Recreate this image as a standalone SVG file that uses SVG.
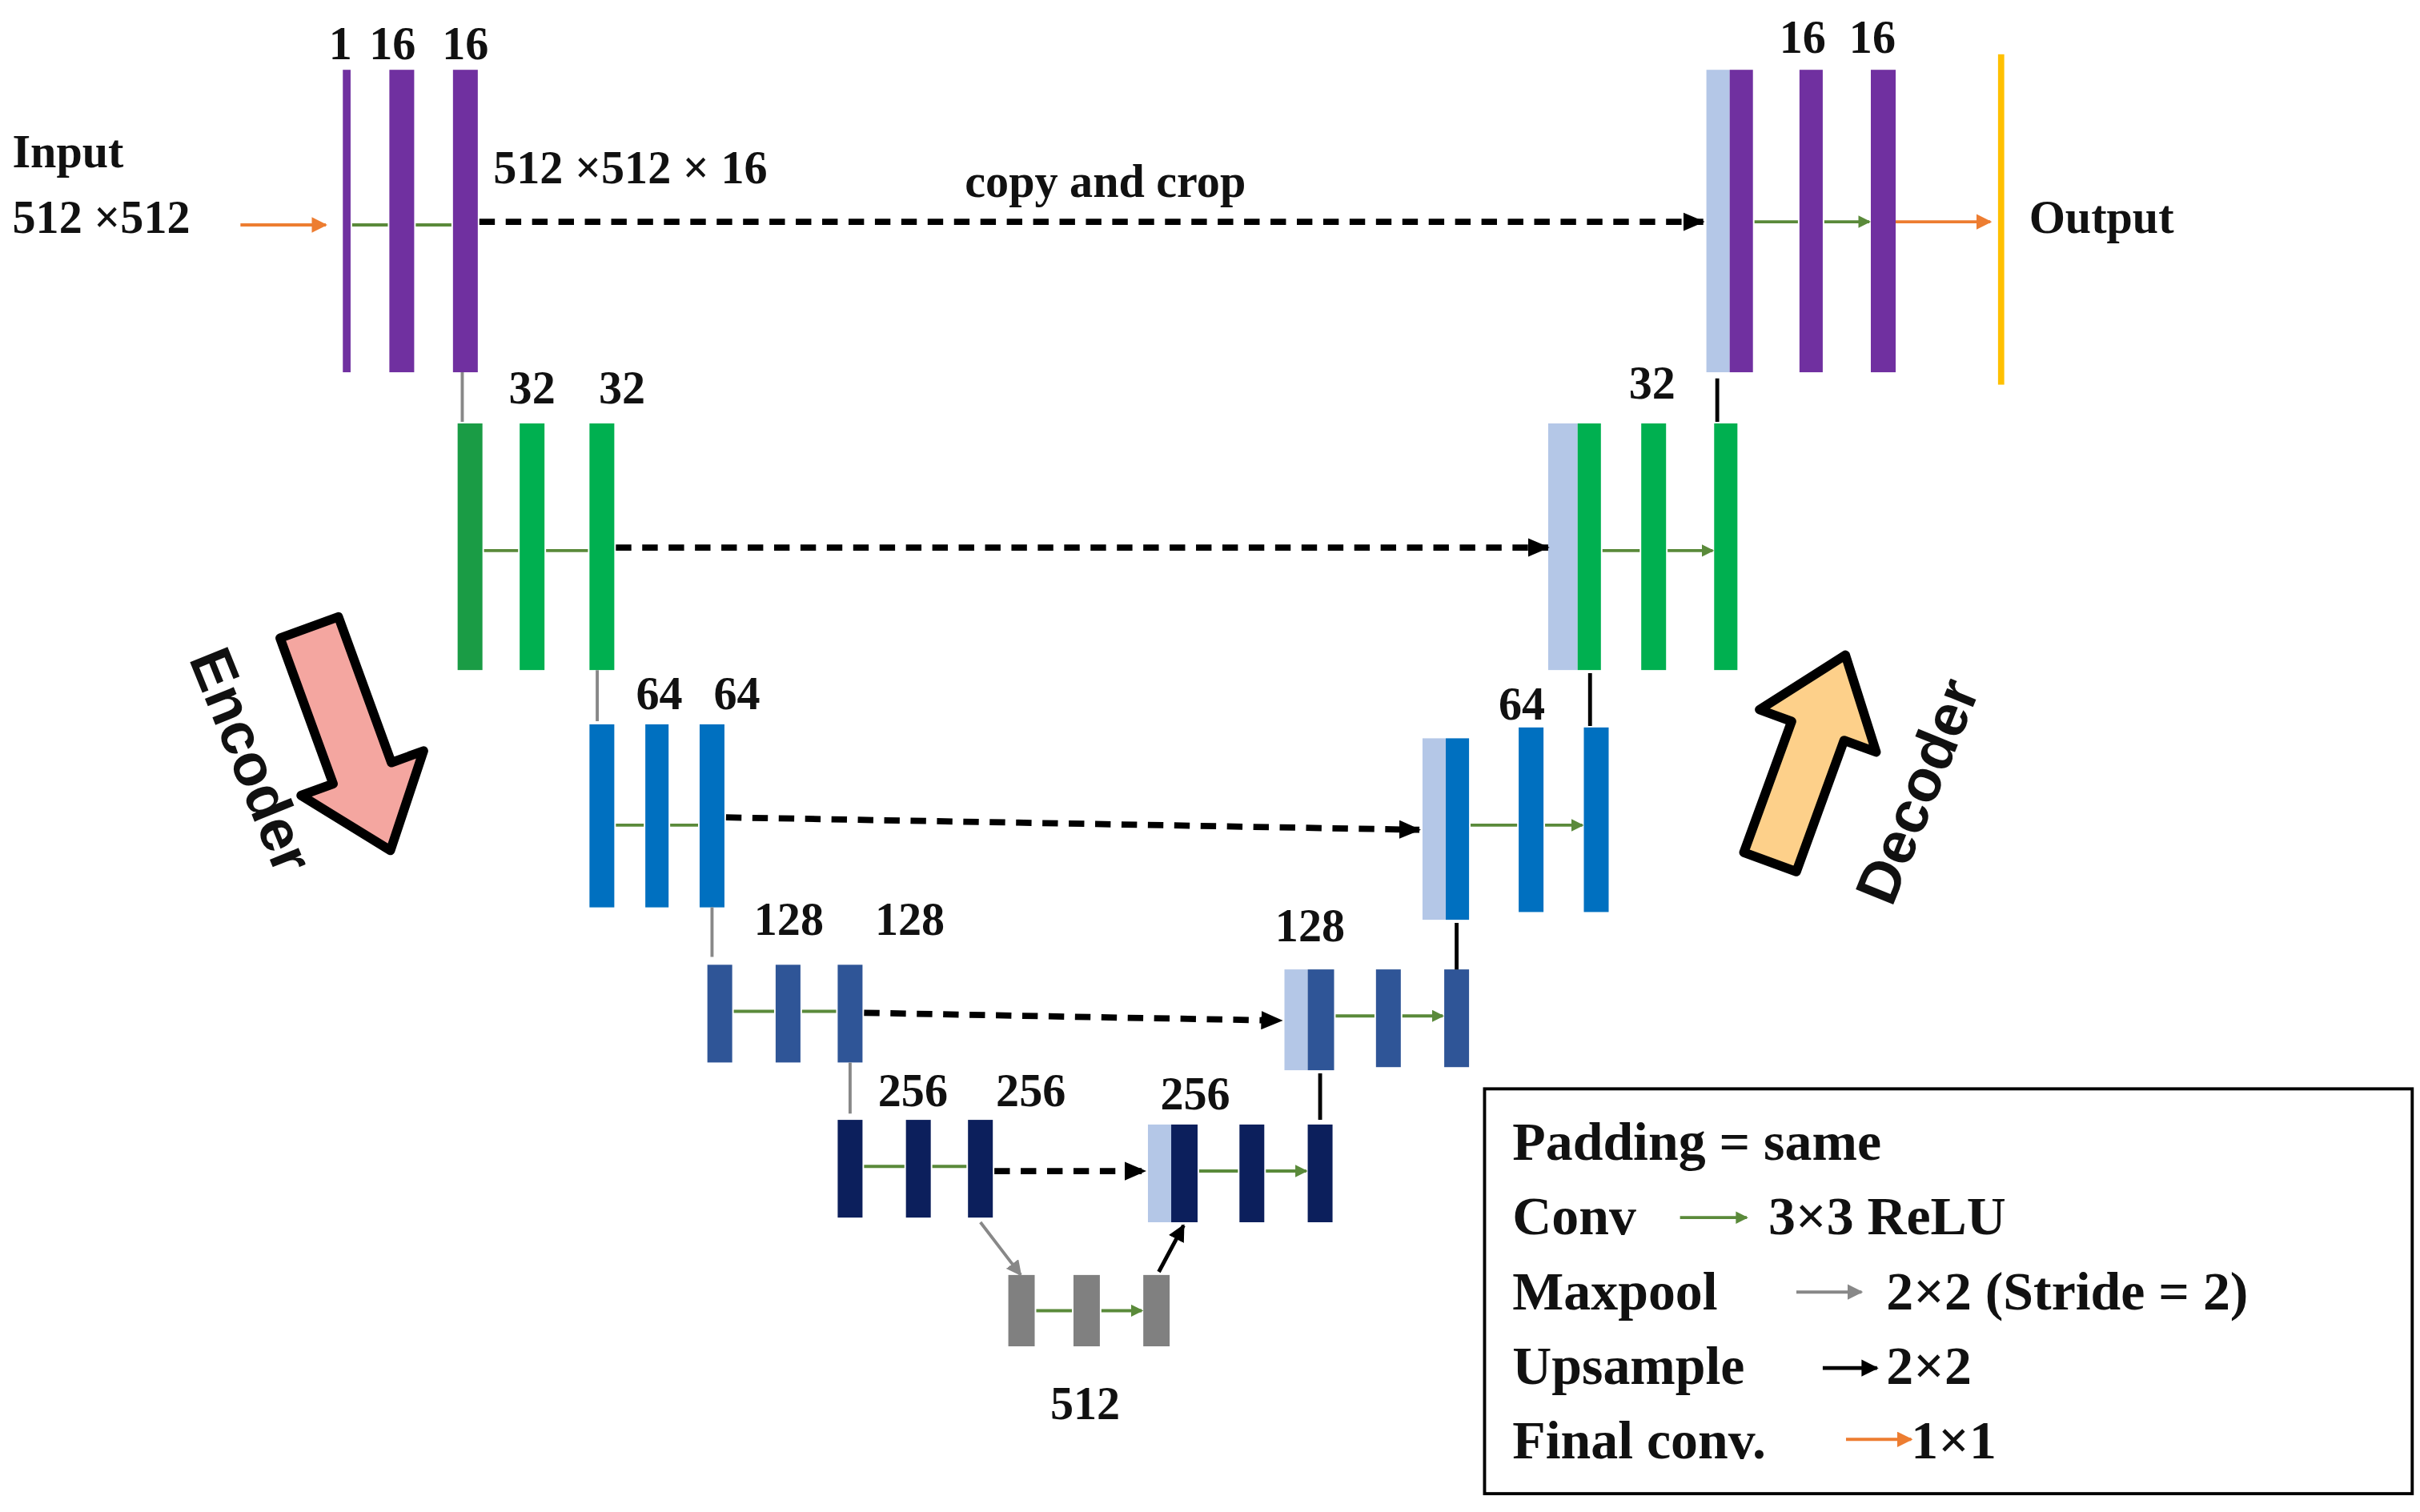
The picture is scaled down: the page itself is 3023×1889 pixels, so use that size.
<svg xmlns="http://www.w3.org/2000/svg" width="3023" height="1889" viewBox="0 0 3023 1889">
<defs>
<style>
.t{font-family:"Liberation Serif",serif;font-weight:bold;font-size:30px;fill:#111}
.lg{font-family:"Liberation Serif",serif;font-weight:bold;font-size:35px;fill:#111}
.s{font-family:"Liberation Sans",sans-serif;font-weight:bold;font-size:38px;fill:#111}
.g{stroke:#5a8a3a;stroke-width:2;fill:none}
.gr{stroke:#888;stroke-width:2;fill:none}
.bk{stroke:#000;stroke-width:2.5;fill:none}
.or{stroke:#ed7d31;stroke-width:2;fill:none}
.d{stroke:#000;stroke-width:4;stroke-dasharray:10,7;fill:none}
.p{fill:#7030a0}.gn{fill:#00b050}.gd{fill:#1a9c45}.b{fill:#0070c0}.m{fill:#2f5597}.n{fill:#0c1f5c}.lb{fill:#b4c7e7}.gy{fill:#808080}
</style>
<marker id="mg" markerWidth="8" markerHeight="8" refX="7" refY="4" orient="auto" markerUnits="userSpaceOnUse"><path d="M0,0L8,4L0,8Z" fill="#5a8a3a"/></marker>
<marker id="mgr" markerWidth="10" markerHeight="10" refX="9" refY="5" orient="auto" markerUnits="userSpaceOnUse"><path d="M0,0L10,5L0,10Z" fill="#888"/></marker>
<marker id="mb" markerWidth="11" markerHeight="11" refX="10" refY="5.5" orient="auto" markerUnits="userSpaceOnUse"><path d="M0,0L11,5.5L0,11Z" fill="#000"/></marker>
<marker id="mo" markerWidth="10" markerHeight="10" refX="9" refY="5" orient="auto" markerUnits="userSpaceOnUse"><path d="M0,0L10,5L0,10Z" fill="#ed7d31"/></marker>
<marker id="md" markerWidth="14" markerHeight="12" refX="13" refY="6" orient="auto" markerUnits="userSpaceOnUse"><path d="M0,0L14,6L0,12Z" fill="#000"/></marker>
</defs>
<rect width="3023" height="1889" fill="#fff"/>
<g transform="scale(1.9378)">
<g id="labels">
<text class="t" x="8" y="108" font-size="31">Input</text>
<text class="t" x="8" y="150" font-size="31">512 ×512</text>
<text class="t" x="318" y="118" font-size="31">512 ×512 × 16</text>
<text class="t" x="622" y="127" font-size="31">copy and crop</text>
<text class="t" x="1308" y="150" font-size="33">Output</text>
<text class="t" x="212" y="38">1</text><text class="t" x="238" y="38">16</text><text class="t" x="285" y="38">16</text>
<text class="t" x="1147" y="34">16</text><text class="t" x="1192" y="34">16</text>
<text class="t" x="328" y="260">32</text><text class="t" x="386" y="260">32</text><text class="t" x="1050" y="257">32</text>
<text class="t" x="410" y="457">64</text><text class="t" x="460" y="457">64</text><text class="t" x="966" y="464">64</text>
<text class="t" x="486" y="603">128</text><text class="t" x="564" y="603">128</text><text class="t" x="822" y="607">128</text>
<text class="t" x="566" y="713">256</text><text class="t" x="642" y="713">256</text><text class="t" x="748" y="715">256</text>
<text class="t" x="677" y="915">512</text>
</g>
<g id="encoder1"><rect class="p" x="221" y="45" width="5" height="195"/><rect class="p" x="251" y="45" width="16" height="195"/><rect class="p" x="292" y="45" width="16" height="195"/></g>
<g id="decoder1"><rect class="lb" x="1100" y="45" width="15" height="195"/><rect class="p" x="1115" y="45" width="15" height="195"/><rect class="p" x="1160" y="45" width="15" height="195"/><rect class="p" x="1206" y="45" width="16" height="195"/><rect fill="#ffc000" x="1288" y="35" width="4" height="213"/></g>
<g id="encoder2"><rect class="gd" x="295" y="273" width="16" height="159"/><rect class="gn" x="335" y="273" width="16" height="159"/><rect class="gn" x="380" y="273" width="16" height="159"/></g>
<g id="decoder2"><rect class="lb" x="998" y="273" width="19" height="159"/><rect class="gn" x="1017" y="273" width="15" height="159"/><rect class="gn" x="1058" y="273" width="16" height="159"/><rect class="gn" x="1105" y="273" width="15" height="159"/></g>
<g id="encoder3"><rect class="b" x="380" y="467" width="16" height="118"/><rect class="b" x="416" y="467" width="15" height="118"/><rect class="b" x="451" y="467" width="16" height="118"/></g>
<g id="decoder3"><rect class="lb" x="917" y="476" width="15" height="117"/><rect class="b" x="932" y="476" width="15" height="117"/><rect class="b" x="979" y="469" width="16" height="119"/><rect class="b" x="1021" y="469" width="16" height="119"/></g>
<g id="encoder4"><rect class="m" x="456" y="622" width="16" height="63"/><rect class="m" x="500" y="622" width="16" height="63"/><rect class="m" x="540" y="622" width="16" height="63"/></g>
<g id="decoder4"><rect class="lb" x="828" y="625" width="15" height="65"/><rect class="m" x="843" y="625" width="17" height="65"/><rect class="m" x="887" y="625" width="16" height="63"/><rect class="m" x="931" y="625" width="16" height="63"/></g>
<g id="encoder5"><rect class="n" x="540" y="722" width="16" height="63"/><rect class="n" x="584" y="722" width="16" height="63"/><rect class="n" x="624" y="722" width="16" height="63"/></g>
<g id="decoder5"><rect class="lb" x="740" y="725" width="15" height="63"/><rect class="n" x="755" y="725" width="17" height="63"/><rect class="n" x="799" y="725" width="16" height="63"/><rect class="n" x="843" y="725" width="16" height="63"/></g>
<g id="bottleneck"><rect class="gy" x="650" y="822" width="17" height="46"/><rect class="gy" x="692" y="822" width="17" height="46"/><rect class="gy" x="737" y="822" width="17" height="46"/></g>
<g id="connectors">
<path class="or" d="M155,145H210" marker-end="url(#mo)"/>
<path class="or" d="M1222,143H1283" marker-end="url(#mo)"/>
<path class="g" d="M227,145H250M268,145H291M1131,143H1159M1176,143H1205" marker-end="url(#mg)"/>
<path class="g" d="M312,355H334M352,355H379M1033,355H1057M1075,355H1104" marker-end="url(#mg)"/>
<path class="g" d="M397,532H415M432,532H450M948,532H978M996,532H1020" marker-end="url(#mg)"/>
<path class="g" d="M473,652H499M517,652H539M861,655H886M904,655H930" marker-end="url(#mg)"/>
<path class="g" d="M557,752H583M601,752H623M773,755H798M816,755H842" marker-end="url(#mg)"/>
<path class="g" d="M668,845H691M710,845H736" marker-end="url(#mg)"/>
<path class="gr" d="M298,240V272M385,432V465M459,585V617M548,685V718M632,788L658,822" marker-end="url(#mgr)"/>
<path class="bk" d="M1107,272V244M1025,468V434M939,625V595M851,722V692M747,820L763,790" marker-end="url(#mb)"/>
<path class="d" d="M309,143H1098" marker-end="url(#md)"/>
<path class="d" d="M397,353H998" marker-end="url(#md)"/>
<path class="d" d="M468,527L915,535" marker-end="url(#md)"/>
<path class="d" d="M557,653L826,658" marker-end="url(#md)"/>
<path class="d" d="M641,755H738" marker-end="url(#md)"/>
</g>
<g id="encoder-arrow">
<path d="M-20,-75L20,-75L20,25L42,25L0,78L-42,25L-20,25Z" transform="translate(225,475) rotate(-20)" fill="#f4a6a0" stroke="#000" stroke-width="6" stroke-linejoin="round"/>
<text class="s" transform="translate(150,495) rotate(68)" text-anchor="middle">Encoder</text>
</g>
<g id="decoder-arrow">
<path d="M-18,-70L18,-70L18,20L40,20L0,72L-40,20L-18,20Z" transform="translate(1165,490) rotate(200)" fill="#fdd08a" stroke="#000" stroke-width="6" stroke-linejoin="round"/>
<text class="s" transform="translate(1248,515) rotate(-68)" text-anchor="middle">Decoder</text>
</g>
<g id="legend">
<rect x="957" y="702" width="598" height="261" fill="#fff" stroke="#000" stroke-width="2"/>
<text class="lg" x="975" y="748">Padding  =  same</text>
<text class="lg" x="975" y="796">Conv</text><text class="lg" x="1140" y="796">3×3 ReLU</text>
<text class="lg" x="975" y="844">Maxpool</text><text class="lg" x="1216" y="844">2×2 (Stride = 2)</text>
<text class="lg" x="975" y="892">Upsample</text><text class="lg" x="1216" y="892">2×2</text>
<text class="lg" x="975" y="940">Final conv.</text><text class="lg" x="1232" y="940">1×1</text>
<path class="g" d="M1083,785H1126" stroke-width="2.5" marker-end="url(#mg)"/>
<path class="gr" d="M1158,833H1200" stroke-width="3" marker-end="url(#mgr)"/>
<path class="bk" d="M1175,882H1210" marker-end="url(#mb)"/>
<path class="or" d="M1190,928H1232" stroke-width="3" marker-end="url(#mo)"/>
</g>
</g>
</svg>
